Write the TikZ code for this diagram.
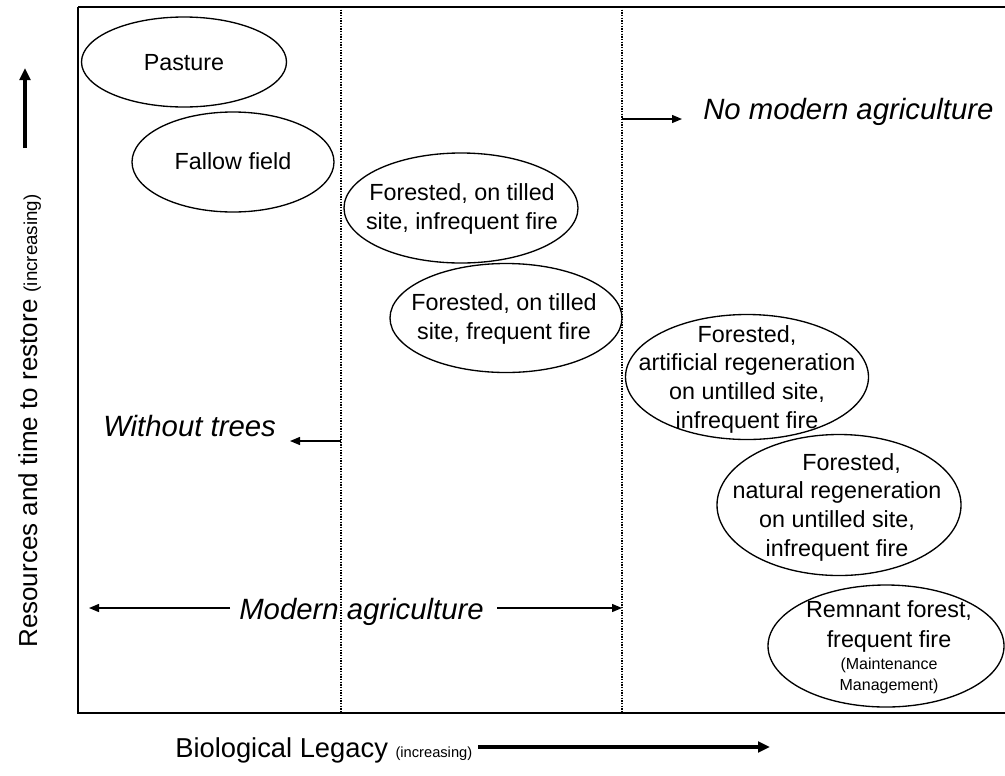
\documentclass[tikz,border=0pt]{standalone}
\usepackage{fontspec}
\setmainfont{Liberation Sans}
\usetikzlibrary{shapes.geometric,arrows.meta}

\begin{document}
\begin{tikzpicture}[
    x=0.75pt, y=-0.75pt,
    blob/.style={draw, ellipse, line width=1pt, inner sep=0pt},
    lbl/.style={font=\fontsize{17.5}{21.5}\selectfont, align=center, inner sep=0pt},
    note/.style={font=\fontsize{22}{26}\selectfont\itshape, inner sep=0pt},
    axis/.style={font=\fontsize{20.5}{24}\selectfont, inner sep=0pt},
    arr/.style={-{Triangle[length=7.5pt,width=6pt]}, line width=1pt},
    bigarr/.style={-{Triangle[length=9pt,width=8pt]}, line width=2.6pt},
    divider/.style={line width=1.6pt, dash pattern=on 1pt off 1pt},
  ]
  \useasboundingbox (0,0) rectangle (1005,775);

  % frame (open on the right)
  \coordinate (tl) at (78,7);
  \coordinate (bl) at (78,713);
  \coordinate (tr) at (1005,7);
  \coordinate (br) at (1005,713);
  \draw[line width=1.9pt] (tl) -- (tr);
  \draw[line width=1.2pt] (tl) -- (bl) -- (br);

  % dotted dividers
  \coordinate (d1t) at (341,7);   \coordinate (d1b) at (341,713);
  \coordinate (d2t) at (622,7);   \coordinate (d2b) at (622,713);
  \draw[divider] (d1t) -- (d1b);
  \draw[divider] (d2t) -- (d2b);

  % land-use states
  \node[blob, minimum width=205*0.75pt, minimum height=90*0.75pt] (pasture) at (184,62) {};
  \node[lbl] (pasturet) at (184,63) {Pasture};

  \node[blob, minimum width=202*0.75pt, minimum height=100*0.75pt] (fallow) at (233,162) {};
  \node[lbl] (fallowt) at (233,161) {Fallow field};

  \node[blob, minimum width=234*0.75pt, minimum height=110*0.75pt] (tinf) at (461,208) {};
  \node[lbl] (tinft) at (462,209) {Forested, on tilled\\site, infrequent fire};

  \node[blob, minimum width=232*0.75pt, minimum height=109*0.75pt] (tfreq) at (506,318) {};
  \node[lbl] (tfreqt) at (504,319) {Forested, on tilled\\site, frequent fire};

  \node[blob, minimum width=243*0.75pt, minimum height=125*0.75pt] (art) at (747,377) {};
  \node[lbl] (artt) at (747,379) {Forested,\\artificial regeneration\\on untilled site,\\infrequent fire};

  \node[blob, minimum width=244*0.75pt, minimum height=141*0.75pt] (nat) at (839,505) {};
  \node[lbl] (natt) at (837,507) {\hspace*{22pt}Forested,\\natural regeneration\\on untilled site,\\infrequent fire};

  \node[blob, minimum width=236*0.75pt, minimum height=122*0.75pt] (rem) at (886,646) {};
  \node[lbl, font=\fontsize{17.5}{22.5}\selectfont] (remt) at (889,647)
    {Remnant forest,\\frequent fire\\[-6pt]{\fontsize{12}{15}\selectfont (Maintenance}\\[-6.5pt]{\fontsize{12}{15}\selectfont Management)}};

  % region labels and their arrows
  \node[note, anchor=base west] (nomod) at (703,119) {No modern agriculture};
  \coordinate (nomodA) at (622,119);
  \coordinate (nomodB) at (682,119);
  \draw[arr] (nomodA) -- (nomodB);

  \node[note, anchor=base west] (notree) at (103,436) {Without trees};
  \coordinate (notreeA) at (341,441);
  \coordinate (notreeB) at (290,441);
  \draw[arr] (notreeA) -- (notreeB);

  \node[note, anchor=base west] (modag) at (239,619) {Modern agriculture};
  \coordinate (modagL) at (89,608);
  \coordinate (modagR) at (622,608);
  \draw[arr] ([xshift=-9*0.75pt]modag.west |- modagL) -- (modagL);
  \draw[arr] ([xshift=13*0.75pt]modag.east |- modagR) -- (modagR);

  % axes
  \node[axis, anchor=base west] (xlab) at (175,757)
    {Biological Legacy {\fontsize{11}{13}\selectfont(increasing)}};
  \coordinate (xarrA) at (478,747);
  \coordinate (xarrB) at (770,747);
  \draw[bigarr] (xarrA) -- (xarrB);

  \node[axis, font=\fontsize{19.5}{24}\selectfont, rotate=90, anchor=base west] (ylab) at (37,648)
    {Resources and time to restore {\fontsize{14}{16}\selectfont(increasing)}};
  \coordinate (yarrA) at (25,148);
  \coordinate (yarrB) at (25,68);
  \draw[bigarr] (yarrA) -- (yarrB);
\end{tikzpicture}
\end{document}
